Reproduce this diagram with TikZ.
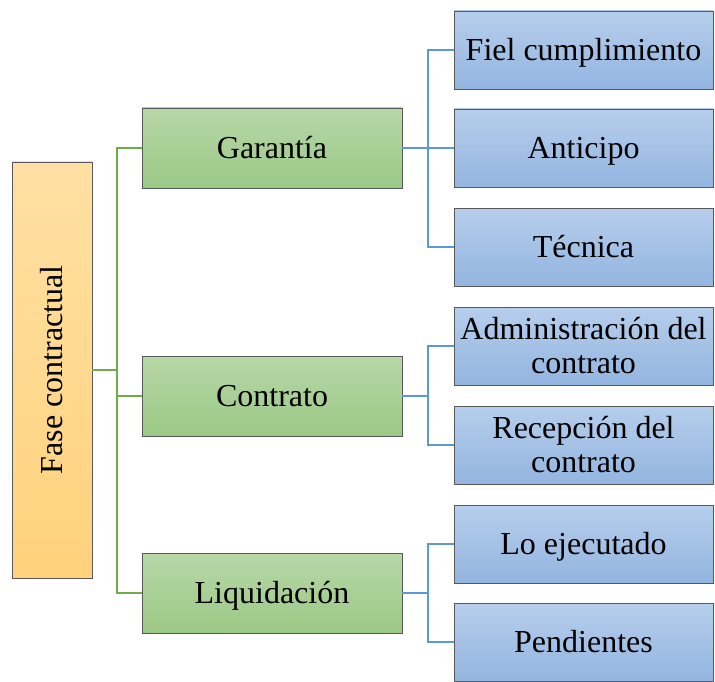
\documentclass[tikz,border=0pt]{standalone}
\usepackage{fontspec}
\setmainfont{Liberation Serif}
\begin{document}
\begin{tikzpicture}[x=1pt,y=-1pt,
  box/.style={draw=black!65,line width=0.8pt,inner sep=2pt,align=center,font=\fontsize{32}{34}\selectfont},
  oneline/.style={text height=28pt,text depth=7pt},
  orangebox/.style={box,top color=orangeT,bottom color=orangeB,minimum width=80pt,minimum height=416pt},
  greenbox/.style={box,oneline,top color=greenT,bottom color=greenB,minimum width=260pt,minimum height=80pt},
  bluebox/.style={box,top color=blueT,bottom color=blueB,minimum width=259pt,minimum height=78pt},
  gline/.style={draw=greenL,line width=2.4pt},
  bline/.style={draw=blueL,line width=2.4pt}]
\definecolor{orangeT}{HTML}{FFE0A3}
\definecolor{orangeB}{HTML}{FFD27C}
\definecolor{greenT}{HTML}{B7D7A8}
\definecolor{greenB}{HTML}{9BC985}
\definecolor{blueT}{HTML}{B6CEEC}
\definecolor{blueB}{HTML}{93B5E0}
\definecolor{greenL}{HTML}{70AD47}
\definecolor{blueL}{HTML}{5B9BD5}
\useasboundingbox (0,0) rectangle (715,682);
% nodes
\node[orangebox] (fase) at (52,370) {};
\node[rotate=90,font=\fontsize{32}{34}\selectfont,text height=28pt,text depth=7pt] (fasetxt) at (fase.center) {Fase contractual};
\node[greenbox] (gar) at (272,148) {Garantía};
\node[greenbox] (cont) at (272,396) {Contrato};
\node[greenbox] (liq) at (272,593) {Liquidación};
\node[bluebox,oneline] (fiel) at (583.5,50) {Fiel cumplimiento};
\node[bluebox,oneline] (ant) at (583.5,148) {Anticipo};
\node[bluebox,oneline] (tec) at (583.5,247) {Técnica};
\node[bluebox] (adm) at (583.5,346) {Administración del\\contrato};
\node[bluebox] (rec) at (583.5,445) {Recepción del\\contrato};
\node[bluebox,oneline] (loe) at (583.5,544) {Lo ejecutado};
\node[bluebox,oneline] (pen) at (583.5,642) {Pendientes};
% junctions
\coordinate (jf) at (117,370);
\coordinate (jg) at (428,148);
\coordinate (jc) at (428,396);
\coordinate (jl) at (428,593);
% green connectors
\draw[gline] (fase.east) -- (jf);
\draw[gline] (jf) |- (gar.west);
\draw[gline] (jf) |- (liq.west);
\draw[gline] (cont.west) -- (cont.west -| jf);
% blue connectors
\draw[bline] (gar.east) -- (ant.west);
\draw[bline] (jg) |- (fiel.west);
\draw[bline] (jg) |- (tec.west);
\draw[bline] (cont.east) -- (jc);
\draw[bline] (jc) |- (adm.west);
\draw[bline] (jc) |- (rec.west);
\draw[bline] (liq.east) -- (jl);
\draw[bline] (jl) |- (loe.west);
\draw[bline] (jl) |- (pen.west);
\end{tikzpicture}
\end{document}
